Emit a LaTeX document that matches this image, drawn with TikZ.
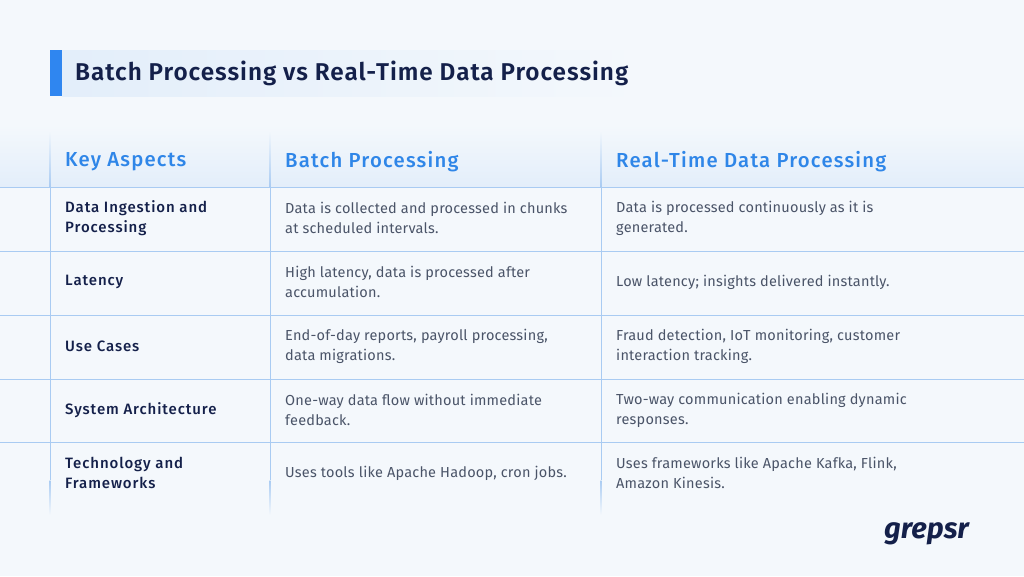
\documentclass[tikz,border=0pt]{standalone}
\usepackage{fontspec}
\setmainfont{Fira Sans}
\newfontfamily\fsm{Fira Sans Medium}
\newfontfamily\fsb{Fira Sans SemiBold}
\begin{document}
\begin{tikzpicture}[x=1pt,y=-1pt,
  cell/.style={anchor=west,align=left,font=\addfontfeature{LetterSpace=1.5}\fontsize{14.5}{20}\selectfont,text=txtgray,inner sep=0pt},
  key/.style={anchor=west,align=left,font=\fsm\addfontfeature{LetterSpace=6}\fontsize{15}{20}\selectfont,text=navy,inner sep=0pt},
  head/.style={anchor=west,font=\fsm\addfontfeature{LetterSpace=6}\fontsize{20.3}{22}\selectfont,text=headblue,inner sep=0pt},
  grid/.style={draw=lineblue,line width=0.9pt}]
\definecolor{bg}{HTML}{F4F8FC}
\definecolor{navy}{HTML}{14204A}
\definecolor{txtgray}{HTML}{4A5468}
\definecolor{headblue}{HTML}{2F86E8}
\definecolor{lineblue}{HTML}{A9CBF2}
\definecolor{accent}{HTML}{2F86F0}
\definecolor{band}{HTML}{E3EEFA}
\fill[bg] (0,0) rectangle (1024,576);
\useasboundingbox (0,0) rectangle (1024,576);
% title
\shade[left color=band,right color=bg] (62,50) rectangle (640,96);
\fill[accent] (50,50) rectangle (62,96);
\node[anchor=west,font=\fsb\addfontfeature{LetterSpace=4}\fontsize{24.3}{26}\selectfont,text=navy,inner sep=0pt] (title) at (75,73) {Batch Processing vs Real-Time Data Processing};
% header band
\shade[top color=bg,bottom color=band] (0,125) rectangle (1024,187);
% grid
\foreach \y in {187,251,315,379,442} \draw[grid] (0,\y) -- (1024,\y);
\foreach \x in {50,270,601} {\shade[top color=bg,bottom color=lineblue] (\x-0.45,130) rectangle (\x+0.45,187);
  \draw[grid] (\x,187) -- (\x,480); \shade[top color=lineblue,bottom color=bg] (\x-0.45,480) rectangle (\x+0.45,515);}
% headers
\node[head] (h1) at (65,162) {Key Aspects};
\node[head] (h2) at (285,162) {Batch Processing};
\node[head] (h3) at (616,162) {Real-Time Data Processing};
% rows
\node[key] (k1) at (65,218) {Data Ingestion and\\Processing};
\node[cell] (b1) at (285,218) {Data is collected and processed in chunks\\at scheduled intervals.};
\node[cell] (r1) at (616,218) {Data is processed continuously as it is\\generated.};
\node[key] (k2) at (65,282) {Latency};
\node[cell] (b2) at (285,282) {High latency, data is processed after\\accumulation.};
\node[cell] (r2) at (616,282) {Low latency; insights delivered instantly.};
\node[key] (k3) at (65,346) {Use Cases};
\node[cell] (b3) at (285,346) {End-of-day reports, payroll processing,\\data migrations.};
\node[cell] (r3) at (616,346) {Fraud detection, IoT monitoring, customer\\interaction tracking.};
\node[key] (k4) at (65,410) {System Architecture};
\node[cell] (b4) at (285,410) {One-way data flow without immediate\\feedback.};
\node[cell] (r4) at (616,410) {Two-way communication enabling dynamic\\responses.};
\node[key] (k5) at (65,473) {Technology and\\Frameworks};
\node[cell] (b5) at (285,473) {Uses tools like Apache Hadoop, cron jobs.};
\node[cell] (r5) at (616,473) {Uses frameworks like Apache Kafka, Flink,\\Amazon Kinesis.};
% logo
\node[anchor=west,font=\bfseries\itshape\fontsize{29}{30}\selectfont,text=navy,inner sep=0pt] (logo) at (884,534) {grepsr};
\end{tikzpicture}
\end{document}
